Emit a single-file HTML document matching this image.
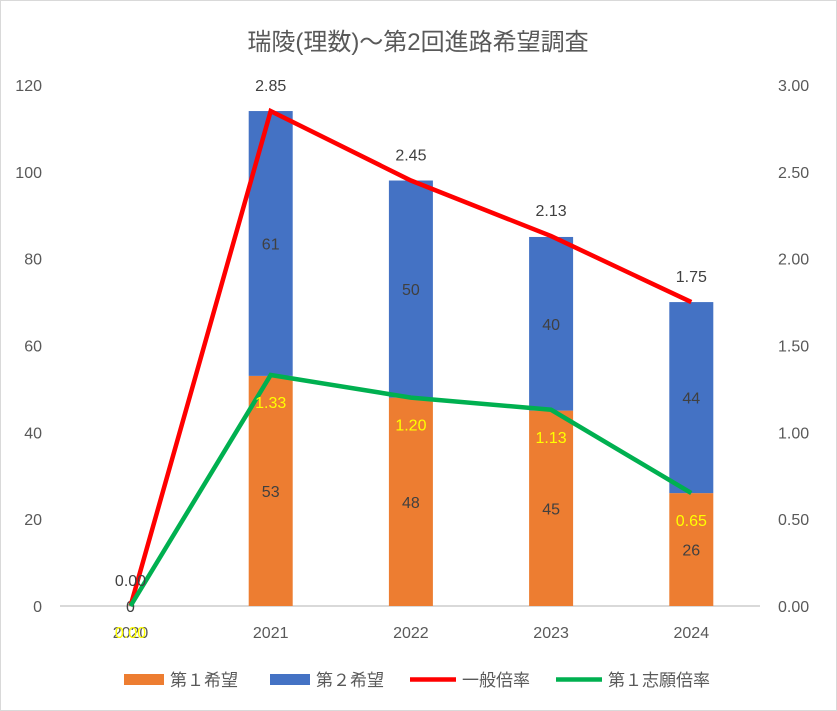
<!DOCTYPE html>
<html><head><meta charset="utf-8"><style>
body{margin:0;background:#fff;}
svg{display:block;font-family:"Liberation Sans","Noto Sans CJK JP",sans-serif;}
</style></head><body>
<svg id="c" width="837" height="711">
<rect x="0.5" y="0.5" width="836" height="710" fill="#fff" stroke="#d9d9d9"/>
<text x="418" y="50" text-anchor="middle" font-size="24" fill="#595959">瑞陵(理数)～第2回進路希望調査</text>
<g id="g"></g>
</svg>
<script>
const years=['2020','2021','2022','2023','2024'];
const first=[0,53,48,45,26];
const second=[0,61,50,40,44];
const general=[0.00,2.85,2.45,2.13,1.75];
const firstRate=[0.00,1.33,1.20,1.13,0.65];
const leftTicks=[0,20,40,60,80,100,120];
const rightTicks=['0.00','0.50','1.00','1.50','2.00','2.50','3.00'];
const NS='http://www.w3.org/2000/svg';
const g=document.getElementById('g');
const y0=606,yTop=85,x0=60,x1=760;
const yL=v=>y0-(v/120)*(y0-yTop);
const yR=v=>y0-(v/3)*(y0-yTop);
const xC=i=>130.5+i*140.2;
function el(t,a,txt){const e=document.createElementNS(NS,t);for(const k in a)e.setAttribute(k,a[k]);if(txt!==undefined)e.textContent=txt;g.appendChild(e);return e;}
let e=el('line',{x1:x0,x2:x1,y1:y0,y2:y0,stroke:'#d9d9d9','stroke-width':2});

leftTicks.forEach(v=>{const t=el('text',{x:42,y:yL(v)+6,'text-anchor':'end','font-size':16,fill:'#595959'},v);
});
rightTicks.forEach((s,i)=>{const t=el('text',{x:778,y:yR(i*0.5)+6,'font-size':16,fill:'#595959'},s);
});
years.forEach((y,i)=>{const t=el('text',{x:xC(i),y:638,'text-anchor':'middle','font-size':16,fill:'#595959'},y);
});
const bw=44;
years.forEach((y,i)=>{
 const a=el('rect',{x:xC(i)-bw/2,y:yL(first[i]),width:bw,height:y0-yL(first[i]),fill:'#ed7d31'});
 
 const b=el('rect',{x:xC(i)-bw/2,y:yL(first[i]+second[i]),width:bw,height:yL(first[i])-yL(first[i]+second[i]),fill:'#4472c4'});
 
 if(first[i]>0){
  const t=el('text',{x:xC(i),y:(yL(first[i])+y0)/2+6,'text-anchor':'middle','font-size':16,fill:'#404040'},first[i]);
  
  const u=el('text',{x:xC(i),y:(yL(first[i])+yL(first[i]+second[i]))/2+6,'text-anchor':'middle','font-size':16,fill:'#404040'},second[i]);
  
 } else {
  const t=el('text',{x:xC(i),y:y0+6,'text-anchor':'middle','font-size':16,fill:'#404040'},first[i]);
  
 }
});
const gl=el('polyline',{points:general.map((v,i)=>xC(i)+','+yR(v)).join(' '),fill:'none',stroke:'#ff0000','stroke-width':4.5});

const fl=el('polyline',{points:firstRate.map((v,i)=>xC(i)+','+yR(v)).join(' '),fill:'none',stroke:'#00b050','stroke-width':4.5});

general.forEach((v,i)=>{const t=el('text',{x:xC(i),y:yR(v)-20,'text-anchor':'middle','font-size':16,fill:'#404040'},v.toFixed(2));
});
firstRate.forEach((v,i)=>{const t=el('text',{x:xC(i),y:i==0?yR(v)+32:yR(v)+33,'text-anchor':'middle','font-size':16,fill:'#ffff00'},v.toFixed(2));
});
const leg=[['第１希望','#ed7d31','rect',124],['第２希望','#4472c4','rect',270],['一般倍率','#ff0000','line',416],['第１志願倍率','#00b050','line',562]];
leg.forEach(l=>{
 let m;
 if(l[2]=='rect') m=el('rect',{x:l[3],y:674,width:40,height:11,fill:l[1]});
 else m=el('line',{x1:l[3]-6,x2:l[3]+40,y1:679.5,y2:679.5,stroke:l[1],'stroke-width':4.5});
 
 const t=el('text',{x:l[3]+46,y:686,'font-size':17,fill:'#595959'},l[0]);
 
});
</script>
</body></html>
